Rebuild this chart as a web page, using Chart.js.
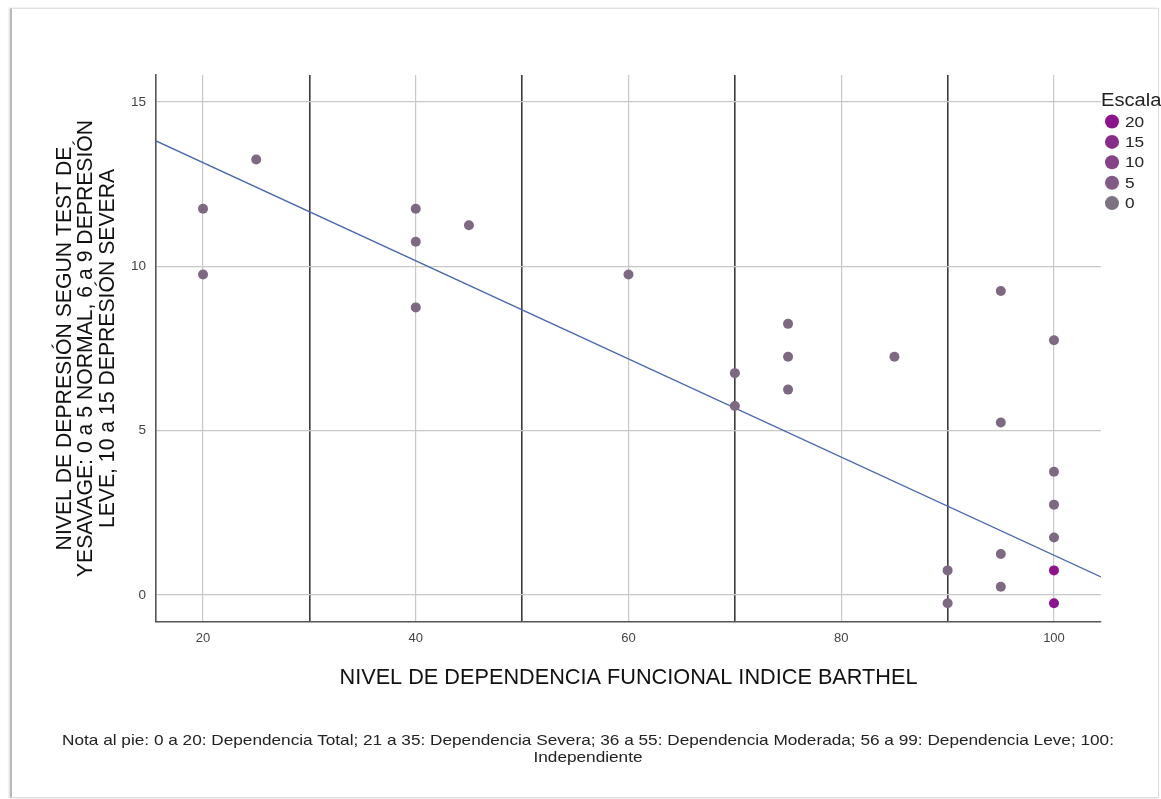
<!DOCTYPE html>
<html>
<head>
<meta charset="utf-8">
<script src="https://cdn.jsdelivr.net/npm/chart.js@4.4.0/dist/chart.umd.min.js"></script>
<style>
  body { margin: 0; background: #fff; font-family: "Liberation Sans", Arial, sans-serif; }
  #wrap { position: relative; width: 1161px; height: 799px; overflow: hidden; background: #fff; }
  #frame {
    position: absolute; left: 10px; top: 8px; width: 1146px; height: 788px;
    border-left: 2px solid #b8b8b8; border-top: 1px solid #e2e2e2;
    border-right: 1px solid #dcdcdc; border-bottom: 1px solid #dcdcdc;
    box-shadow: -1px 0 2px rgba(0,0,0,0.15);
  }
  #chart { position: absolute; left: 0; top: 0; }
  #nota {
    position: absolute; left: 0; top: 731px; width: 1176px;
    text-align: center; font-size: 15px; line-height: 17px; color: #222;
    transform: scaleX(1.147); transform-origin: 588px 0;
  }
</style>
</head>
<body>
<div id="wrap">
  <div id="frame"></div>
  <canvas id="chart" width="1161" height="799"></canvas>
  <div id="nota">Nota al pie: 0 a 20: Dependencia Total; 21 a 35: Dependencia Severa; 36 a 55: Dependencia Moderada; 56 a 99: Dependencia Leve; 100:<br>Independiente</div>
</div>
<script>
// Barthel index (x) and Yesavage score (y) as plotted
var barthel = [20, 20, 25, 40, 40, 40, 45, 60, 70, 70, 75, 75, 75, 85, 90, 90, 95, 95, 95, 95, 100, 100, 100, 100, 100, 100];
var yesavage = [11.75, 9.75, 13.25, 11.75, 10.75, 8.75, 11.25, 9.75, 6.75, 5.75, 8.25, 7.25, 6.25, 7.25, 0.75, -0.25, 9.25, 5.25, 1.25, 0.25, 7.75, 3.75, 2.75, 1.75, 0.75, -0.25];
var escala = [2, 2, 2, 2, 2, 2, 2, 2, 2, 2, 2, 2, 2, 2, 2, 2, 2, 2, 2, 2, 2, 2, 2, 2, 20, 20];
var legendLevels = [20, 15, 10, 5, 0];

// fit line
var fitIntercept = 16.14;
var fitSlope = -0.1493;

var xMin = 15.58, xMax = 104.42;
var yMin = -0.82, yMax = 15.82;
var xGridTicks = [20, 30, 40, 50, 60, 70, 80, 90, 100];
var yTicks = [0, 5, 10, 15];
var darkLines = [30, 50, 70, 90];

function escalaColor(v) {
  var c0 = [125, 114, 130], c1 = [139, 20, 140];
  var t = v / 20;
  var c = c0.map(function (a, i) { return Math.round(a + (c1[i] - a) * t); });
  return 'rgb(' + c.join(',') + ')';
}

var points = barthel.map(function (x, i) { return { x: x, y: yesavage[i] }; });
var fitLine = [xMin, xMax].map(function (x) { return { x: x, y: fitIntercept + fitSlope * x }; });

var escalaLegend = {
  id: 'escalaLegend',
  afterDraw: function (chart) {
    var ctx = chart.ctx;
    var x0 = chart.chartArea.right;
    ctx.save();
    ctx.textBaseline = 'middle';
    ctx.fillStyle = '#222';
    ctx.save();
    ctx.translate(x0, 101);
    ctx.scale(1.15, 1);
    ctx.font = '17.5px "Liberation Sans", Arial, sans-serif';
    ctx.fillText('Escala', 0, 0);
    ctx.restore();
    legendLevels.forEach(function (lv, i) {
      var y = 121.5 + i * 20.4;
      ctx.beginPath();
      ctx.arc(x0 + 11, y, 7, 0, Math.PI * 2);
      ctx.fillStyle = escalaColor(lv);
      ctx.fill();
      ctx.save();
      ctx.translate(x0 + 24, y + 1);
      ctx.scale(1.15, 1);
      ctx.fillStyle = '#222';
      ctx.font = '15px "Liberation Sans", Arial, sans-serif';
      ctx.fillText(String(lv), 0, 0);
      ctx.restore();
    });
    ctx.restore();
  }
};

new Chart(document.getElementById('chart').getContext('2d'), {
  type: 'scatter',
  data: {
    datasets: [{
      label: 'Escala',
      data: points,
      backgroundColor: escala.map(escalaColor),
      borderWidth: 0,
      pointRadius: 5,
      pointHoverRadius: 5
    }, {
      type: 'line',
      label: 'Ajuste',
      data: fitLine,
      borderColor: '#4a68ad',
      borderWidth: 1.3,
      pointRadius: 0,
      fill: false
    }]
  },
  options: {
    responsive: false,
    animation: false,
    layout: { padding: { left: 0, top: 75, right: 60, bottom: 0 } },
    plugins: { legend: { display: false }, tooltip: { enabled: false } },
    scales: {
      x: {
        type: 'linear',
        min: xMin, max: xMax,
        afterBuildTicks: function (axis) { axis.ticks = xGridTicks.map(function (v) { return { value: v }; }); },
        afterFit: function (axis) { axis.height = 177; },
        ticks: {
          padding: 9,
          color: '#444',
          font: { family: '"Liberation Sans", Arial, sans-serif', size: 13 },
          autoSkip: false, maxRotation: 0,
          callback: function (v) { return v % 20 === 0 ? v : ''; }
        },
        grid: {
          drawTicks: false,
          color: function (ctx) { return darkLines.indexOf(ctx.tick && ctx.tick.value) >= 0 ? '#3a3a3a' : '#c8c8c8'; },
          lineWidth: function (ctx) { return darkLines.indexOf(ctx.tick && ctx.tick.value) >= 0 ? 1.6 : 1.2; }
        },
        border: { color: '#555', width: 1.6 },
        title: {
          display: true,
          text: 'NIVEL DE DEPENDENCIA FUNCIONAL INDICE BARTHEL',
          color: '#111',
          font: { family: '"Liberation Sans", Arial, sans-serif', size: 21.7, lineHeight: 1.05 },
          padding: { top: 0, bottom: 110 }
        }
      },
      y: {
        type: 'linear',
        min: yMin, max: yMax,
        afterBuildTicks: function (axis) { axis.ticks = yTicks.map(function (v) { return { value: v }; }); },
        afterFit: function (axis) { axis.width = 156; },
        ticks: {
          padding: 10,
          color: '#444',
          font: { family: '"Liberation Sans", Arial, sans-serif', size: 13.5 }
        },
        grid: { drawTicks: false, color: '#c8c8c8', lineWidth: 1.2 },
        border: { color: '#555', width: 1.6 },
        title: {
          display: true,
          text: ['NIVEL DE DEPRESIÓN SEGUN TEST DE', 'YESAVAGE: 0 a 5 NORMAL, 6 a 9 DEPRESIÓN', 'LEVE, 10 a 15 DEPRESIÓN SEVERA'],
          color: '#111',
          font: { family: '"Liberation Sans", Arial, sans-serif', size: 21.2, lineHeight: 1.02 },
          padding: { top: 54, bottom: 0 }
        }
      }
    }
  },
  plugins: [escalaLegend]
});
</script>
</body>
</html>
